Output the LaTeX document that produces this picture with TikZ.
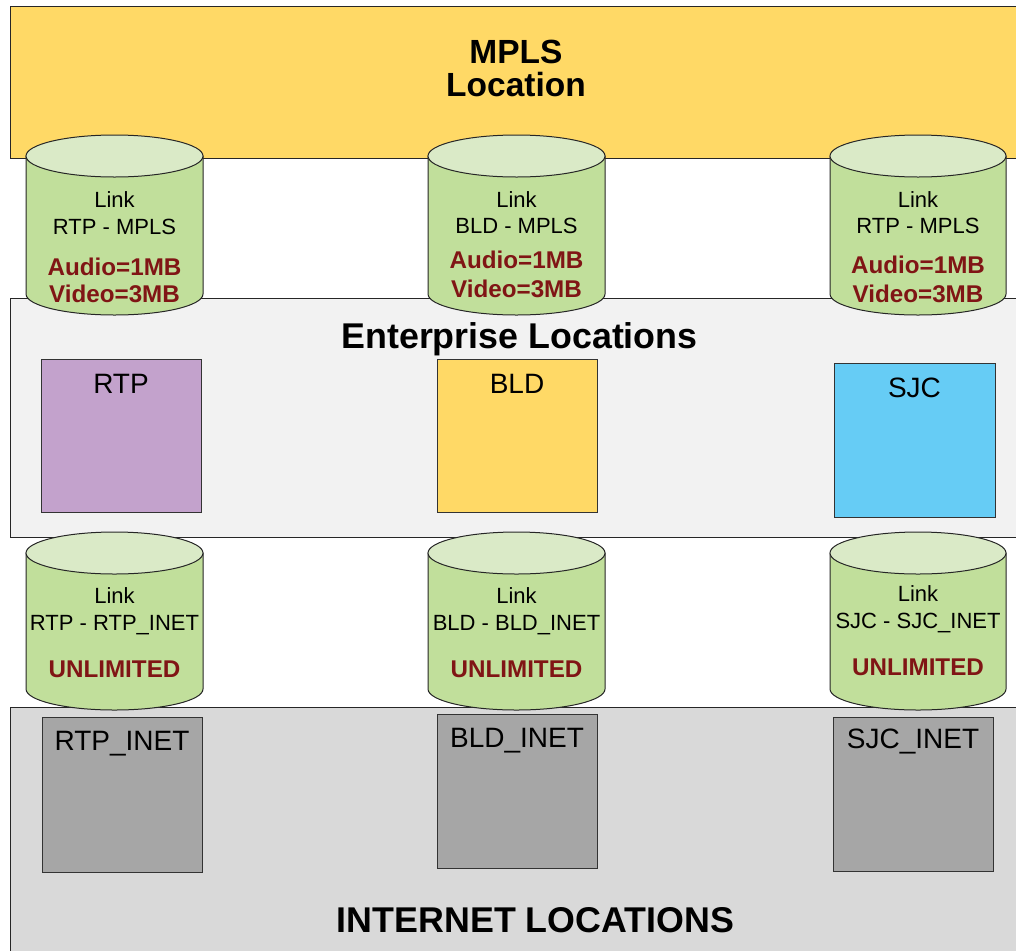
\documentclass[tikz,border=0pt]{standalone}
\usepackage{fontspec}
\setmainfont{Liberation Sans}
\definecolor{mplsamarillo}{RGB}{255,217,102}
\definecolor{entgris}{RGB}{242,242,242}
\definecolor{inetgris}{RGB}{217,217,217}
\definecolor{cylcuerpo}{RGB}{193,223,155}
\definecolor{cyltapa}{RGB}{218,234,199}
\definecolor{linkrojo}{RGB}{128,21,21}
\definecolor{rtpmorado}{RGB}{195,162,204}
\definecolor{sjcazul}{RGB}{102,204,245}
\definecolor{cajagris}{RGB}{166,166,166}

\begin{document}
\begin{tikzpicture}[x=1pt, y=-1pt,
    every node/.style={inner sep=0pt},
    zona/.style={draw=black!85, line width=.8pt},
    caja/.style={draw=black!80, line width=1.1pt, minimum width=160pt, minimum height=153pt, anchor=north west},
    cyl/.style={draw=black!85, line width=1pt},
    titulo/.style={anchor=base, font=\fontsize{33.5}{33}\selectfont\bfseries},
    zonatxt/.style={anchor=base, font=\fontsize{35.8}{36}\selectfont\bfseries},
    etiq/.style={anchor=base, font=\fontsize{28}{28}\selectfont},
    linktxt/.style={anchor=base, font=\fontsize{22}{22}\selectfont},
    cuota/.style={anchor=base, text=linkrojo, font=\fontsize{24.2}{24}\selectfont\bfseries}]
    \useasboundingbox (0,0) rectangle (1016,951);

    % Zonas de fondo.
    \fill[mplsamarillo] (10,6) rectangle (1016,158);
    \draw[zona] (1016,6) -- (10,6) -- (10,158) -- (1016,158);
    \fill[entgris] (10,298) rectangle (1016,537);
    \draw[zona] (1016,298) -- (10,298) -- (10,537) -- (1016,537);
    \fill[inetgris] (10,707) rectangle (1016,951);
    \draw[zona] (1016,707) -- (10,707) -- (10,951);

    \node[titulo] (mpls1) at (516,63) {MPLS};
    \node[titulo] (mpls2) at (516,96) {Location};
    \node[zonatxt] (ent) at (519.5,348) {Enterprise Locations};
    \node[zonatxt] (inet) at (535.5,932) {INTERNET LOCATIONS};

    % Enlaces (cilindros).
    \foreach \xa/\xb in {26/203,428/605,830/1006}
      \foreach \yt/\yb in {156/294,553/689}{
        \draw[cyl, fill=cylcuerpo] (\xa,\yt) -- (\xa,\yb)
            arc[start angle=180, end angle=0, x radius={(\xb-\xa)/2}, y radius=21]
            -- (\xb,\yt) -- cycle;
        \draw[cyl, fill=cyltapa] ({(\xa+\xb)/2},\yt)
            ellipse[x radius={(\xb-\xa)/2}, y radius=21];
      }

    % Textos de los enlaces hacia MPLS.
    \node[linktxt] (l1a) at (114.5,207) {Link};
    \node[linktxt] (l1b) at (114.5,234) {RTP - MPLS};
    \node[cuota] (l1c) at (114.5,275) {Audio=1MB};
    \node[cuota] (l1d) at (114.5,302) {Video=3MB};
    \node[linktxt] (l2a) at (516.5,207) {Link};
    \node[linktxt] (l2b) at (516.5,233) {BLD - MPLS};
    \node[cuota] (l2c) at (516.5,268) {Audio=1MB};
    \node[cuota] (l2d) at (516.5,297) {Video=3MB};
    \node[linktxt] (l3a) at (918,207) {Link};
    \node[linktxt] (l3b) at (918,233) {RTP - MPLS};
    \node[cuota] (l3c) at (918,273) {Audio=1MB};
    \node[cuota] (l3d) at (918,302) {Video=3MB};

    % Textos de los enlaces hacia Internet.
    \node[linktxt] (i1a) at (114.5,603) {Link};
    \node[linktxt] (i1b) at (114.5,630) {RTP - RTP\_INET};
    \node[cuota] (i1c) at (114.5,677) {UNLIMITED};
    \node[linktxt] (i2a) at (516.5,603) {Link};
    \node[linktxt] (i2b) at (516.5,630) {BLD - BLD\_INET};
    \node[cuota] (i2c) at (516.5,677) {UNLIMITED};
    \node[linktxt] (i3a) at (918,601) {Link};
    \node[linktxt] (i3b) at (918,628) {SJC - SJC\_INET};
    \node[cuota] (i3c) at (918,675) {UNLIMITED};

    % Sedes de la empresa.
    \node[caja, fill=rtpmorado] (rtp) at (41,359) {};
    \node[caja, fill=mplsamarillo] (bld) at (437,359) {};
    \node[caja, fill=sjcazul, minimum width=161pt, minimum height=154pt] (sjc) at (834,363) {};
    \node[etiq] (rtp-txt) at (121,393) {RTP};
    \node[etiq] (bld-txt) at (517,393) {BLD};
    \node[etiq] (sjc-txt) at (914.5,397) {SJC};

    % Sedes en Internet.
    \node[caja, fill=cajagris, minimum height=155pt] (rtpinet) at (42,717) {};
    \node[caja, fill=cajagris, minimum height=154pt] (bldinet) at (437,714) {};
    \node[caja, fill=cajagris, minimum height=154pt] (sjcinet) at (833,717) {};
    \node[etiq] (rtpinet-txt) at (122,750) {RTP\_INET};
    \node[etiq] (bldinet-txt) at (517,747) {BLD\_INET};
    \node[etiq] (sjcinet-txt) at (913,748) {SJC\_INET};
\end{tikzpicture}
\end{document}
